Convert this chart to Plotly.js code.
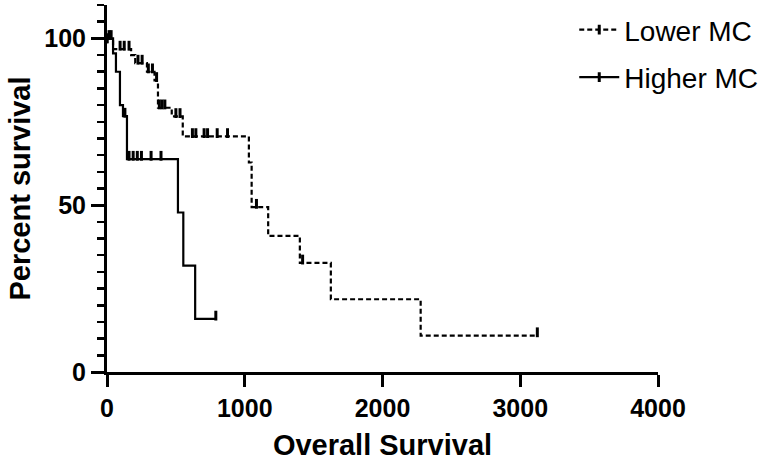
<!DOCTYPE html>
<html>
<head>
<meta charset="utf-8">
<script src="https://cdn.plot.ly/plotly-3.0.1.min.js"></script>
<style>html,body{margin:0;padding:0;background:#fff;}#chart{width:768px;height:468px;}</style>
</head>
<body>
<div id="chart"></div>
<script>
// ---- Data ----
var seriesNames = ["Lower MC", "Higher MC"];

// Lower MC: event times (days) and survival (%) after each event
var lowerEventTimes = [0, 44, 175, 205, 290, 345, 370, 470, 550, 1030, 1050, 1170, 1400, 1625, 2277];
var lowerSurvival   = [100, 96.8, 95.0, 92.6, 90.0, 87.4, 79.2, 76.6, 70.6, 62.8, 49.4, 40.8, 32.7, 21.8, 10.9];
var lowerCensored   = [15, 30, 95, 125, 160, 225, 255, 300, 330, 360, 380, 400, 420, 500, 530,
                       620, 645, 705, 730, 800, 875, 1085, 1420, 3124];

// Higher MC
var higherEventTimes = [0, 44, 65, 94, 116, 145, 515, 554, 640];
var higherSurvival   = [100, 95.5, 90.0, 80.0, 76.7, 63.8, 47.8, 31.9, 15.9];
var higherCensored   = [130, 160, 190, 220, 250, 320, 392, 790];

var xTickVals = [0, 1000, 2000, 3000, 4000];
var yTickVals = [0, 50, 100];

// ---- Helpers ----
function survAt(evT, evS, t) {
  var s = evS[0];
  for (var i = 0; i < evT.length; i++) { if (evT[i] <= t) s = evS[i]; }
  return s;
}
function buildCurve(evT, evS, cT) {
  var pts = evT.map(function (t, i) { return {t: t, s: evS[i]}; });
  cT.forEach(function (t) { pts.push({t: t, s: survAt(evT, evS, t)}); });
  pts.sort(function (a, b) { return a.t - b.t; });
  return {x: pts.map(function (p) { return p.t; }), y: pts.map(function (p) { return p.s; })};
}
function censorPts(evT, evS, cT, lift) {
  return {x: cT.slice(), y: cT.map(function (t) { return survAt(evT, evS, t) + lift; })};
}

var FONT = "Liberation Sans, Arial, Helvetica, sans-serif";
var lift = 1.0;

function curveTrace(name, curve, dash, group) {
  var colors = curve.x.map(function (v, i) { return i === 0 ? "#000" : "rgba(0,0,0,0)"; });
  return {
    x: curve.x, y: curve.y, name: name, legendgroup: group,
    mode: "lines+markers", type: "scatter",
    line: {shape: "hv", color: "#000", width: 2.2, dash: dash},
    marker: {symbol: "line-ns-open", size: 7, color: colors, line: {width: 3}},
    hoverinfo: "skip"
  };
}
function censorTrace(c, group) {
  return {
    x: c.x, y: c.y, legendgroup: group, showlegend: false,
    mode: "markers", type: "scatter", cliponaxis: false,
    marker: {symbol: "line-ns-open", size: 7, color: "#000", line: {width: 3}},
    hoverinfo: "skip"
  };
}

var lowerCurve = buildCurve(lowerEventTimes, lowerSurvival, lowerCensored);
var higherCurve = buildCurve(higherEventTimes, higherSurvival, higherCensored);

var data = [
  curveTrace(seriesNames[0], lowerCurve, "5px,3px", "g1"),
  censorTrace(censorPts(lowerEventTimes, lowerSurvival, lowerCensored, lift), "g1"),
  curveTrace(seriesNames[1], higherCurve, "solid", "g2"),
  censorTrace(censorPts(higherEventTimes, higherSurvival, higherCensored, lift), "g2")
];

var layout = {
  width: 768, height: 468,
  margin: {l: 107, r: 110, t: 5, b: 96},
  paper_bgcolor: "#fff", plot_bgcolor: "#fff",
  showlegend: true,
  legend: {
    x: 0.848, y: 1.0, xanchor: "left", yanchor: "top",
    font: {family: FONT, size: 28, color: "#000"},
    traceorder: "grouped", tracegroupgap: 8,
    itemwidth: 40, bgcolor: "rgba(0,0,0,0)"
  },
  xaxis: {
    range: [0, 4000], tickvals: xTickVals, ticktext: xTickVals.map(String),
    showgrid: false, zeroline: false,
    showline: true, linecolor: "#000", linewidth: 3,
    ticks: "outside", ticklen: 12, tickwidth: 3, tickcolor: "#000",
    tickfont: {family: FONT, size: 25, color: "#000", weight: "bold"},
    title: {text: "Overall Survival", font: {family: FONT, size: 29, color: "#000", weight: "bold"}, standoff: 14}
  },
  yaxis: {
    range: [0, 110], tickvals: yTickVals, ticktext: yTickVals.map(String),
    showgrid: false, zeroline: false,
    showline: true, linecolor: "#000", linewidth: 3,
    ticks: "outside", ticklen: 13, tickwidth: 3, tickcolor: "#000",
    minor: {dtick: 5, ticks: "outside", ticklen: 7, tickwidth: 2.5, tickcolor: "#000", showgrid: false},
    tickfont: {family: FONT, size: 25, color: "#000", weight: "bold"},
    title: {text: "Percent survival", font: {family: FONT, size: 29, color: "#000", weight: "bold"}, standoff: 6}
  }
};

Plotly.newPlot("chart", data, layout, {displayModeBar: false, staticPlot: true});
</script>
</body>
</html>
